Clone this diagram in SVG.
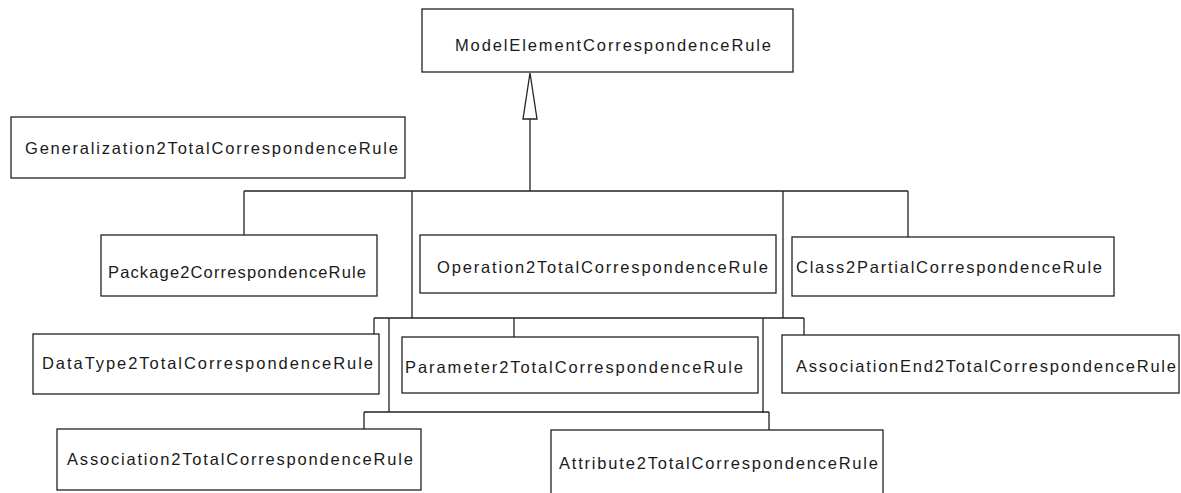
<svg xmlns="http://www.w3.org/2000/svg" width="1181" height="493" viewBox="0 0 1181 493">
  <style>
    .box { fill: #ffffff; stroke: #222222; stroke-width: 1.3; }
    .lbl { font-family: "Liberation Sans", Arial, sans-serif; font-size: 16.5px; fill: #1a1a1a; }
    .conn { fill: none; stroke: #222222; stroke-width: 1.3; }
  </style>
  <rect width="1181" height="493" fill="#ffffff"/>

  <!-- generalization connectors -->
  <g id="connectors">
    <!-- upper bus and its drops -->
    <path class="conn" d="M530,119 V191 M244,191 H908 M244,191 V235 M908,191 V237 M412,191 V318 M783,191 V318"/>
    <!-- hollow inheritance triangle -->
    <polygon class="conn" points="530,73 523,119 537,119" fill="#ffffff"/>
    <!-- middle bus -->
    <path class="conn" d="M374,318 H804 M374,318 V334 M514,318 V337 M804,318 V335 M389,318 V412 M763,318 V413"/>
    <!-- lower bus -->
    <path class="conn" d="M364,412 H769 M364,412 V429 M769,412 V430"/>
  </g>

  <g id="modelElement">
    <rect class="box" x="422" y="9" width="371" height="63"/>
    <text class="lbl" x="455" y="51" textLength="316" lengthAdjust="spacing">ModelElementCorrespondenceRule</text>
  </g>
  <g id="generalization">
    <rect class="box" x="11" y="117" width="394" height="61"/>
    <text class="lbl" x="25" y="154" textLength="373" lengthAdjust="spacing">Generalization2TotalCorrespondenceRule</text>
  </g>
  <g id="package">
    <rect class="box" x="101" y="235" width="276" height="61"/>
    <text class="lbl" x="108" y="278" textLength="258" lengthAdjust="spacing">Package2CorrespondenceRule</text>
  </g>
  <g id="operation">
    <rect class="box" x="420" y="235" width="356" height="58"/>
    <text class="lbl" x="437" y="273" textLength="331" lengthAdjust="spacing">Operation2TotalCorrespondenceRule</text>
  </g>
  <g id="class">
    <rect class="box" x="792" y="237" width="322" height="59"/>
    <text class="lbl" x="796" y="273" textLength="306" lengthAdjust="spacing">Class2PartialCorrespondenceRule</text>
  </g>
  <g id="dataType">
    <rect class="box" x="33" y="334" width="346" height="60"/>
    <text class="lbl" x="42" y="369" textLength="331" lengthAdjust="spacing">DataType2TotalCorrespondenceRule</text>
  </g>
  <g id="parameter">
    <rect class="box" x="402" y="337" width="356" height="56"/>
    <text class="lbl" x="405" y="373" textLength="338" lengthAdjust="spacing">Parameter2TotalCorrespondenceRule</text>
  </g>
  <g id="associationEnd">
    <rect class="box" x="782" y="335" width="397" height="58"/>
    <text class="lbl" x="796" y="372" textLength="380" lengthAdjust="spacing">AssociationEnd2TotalCorrespondenceRule</text>
  </g>
  <g id="association">
    <rect class="box" x="57" y="429" width="364" height="61"/>
    <text class="lbl" x="67" y="465" textLength="346" lengthAdjust="spacing">Association2TotalCorrespondenceRule</text>
  </g>
  <g id="attribute">
    <rect class="box" x="551" y="430" width="332" height="70"/>
    <text class="lbl" x="559" y="469" textLength="319" lengthAdjust="spacing">Attribute2TotalCorrespondenceRule</text>
  </g>
</svg>
